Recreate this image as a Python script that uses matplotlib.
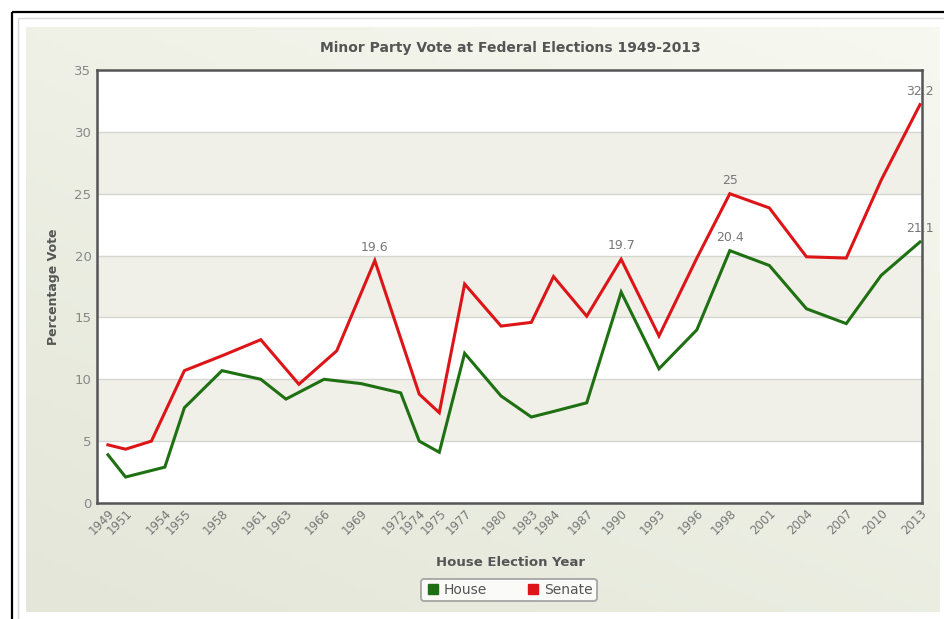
import datetime as dt
import numpy as np
import matplotlib
matplotlib.use("Agg")
import matplotlib.pyplot as plt
from matplotlib.patches import Rectangle
from matplotlib.colors import LinearSegmentedColormap
from matplotlib.lines import Line2D

# ---------------- data ----------------
house_dates = ["1949-12-10", "1951-04-28", "1954-05-29", "1955-12-10", "1958-11-22",
               "1961-12-09", "1963-11-30", "1966-11-26", "1969-10-25", "1972-12-02",
               "1974-05-18", "1975-12-13", "1977-12-10", "1980-10-18", "1983-03-05",
               "1984-12-01", "1987-07-11", "1990-03-24", "1993-03-13", "1996-03-02",
               "1998-10-03", "2001-11-10", "2004-10-09", "2007-11-24", "2010-08-21",
               "2013-09-07"]
house_labels = ["1949", "1951", "1954", "1955", "1958", "1961", "1963", "1966", "1969",
                "1972", "1974", "1975", "1977", "1980", "1983", "1984", "1987", "1990",
                "1993", "1996", "1998", "2001", "2004", "2007", "2010", "2013"]
house_vote = [3.9, 2.1, 2.9, 7.7, 10.7, 10.0, 8.4, 10.0, 9.65, 8.9, 5.0, 4.1, 12.1,
              8.65, 6.95, 7.4, 8.1, 17.05, 10.85, 14.0, 20.4, 19.2, 15.7, 14.5, 18.4, 21.1]

senate_dates = ["1949-12-10", "1951-04-28", "1953-05-09", "1955-12-10", "1958-11-22",
                "1961-12-09", "1964-12-05", "1967-11-25", "1970-11-21", "1974-05-18",
                "1975-12-13", "1977-12-10", "1980-10-18", "1983-03-05", "1984-12-01",
                "1987-07-11", "1990-03-24", "1993-03-13", "1996-03-02", "1998-10-03",
                "2001-11-10", "2004-10-09", "2007-11-24", "2010-08-21", "2013-09-07"]
senate_vote = [4.7, 4.35, 5.0, 10.7, 11.9, 13.2, 9.6, 12.3, 19.6, 8.8, 7.3, 17.7, 14.3,
               14.6, 18.3, 15.1, 19.7, 13.5, 19.8, 25.0, 23.85, 19.9, 19.8, 26.1, 32.2]

# points that carry a value label (indices into each series)
house_labelled = [20, 25]
senate_labelled = [8, 16, 19, 24]

y_ticks = [0, 5, 10, 15, 20, 25, 30, 35]


def to_decimal(s):
    d = dt.date.fromisoformat(s)
    start = dt.date(d.year, 1, 1)
    return d.year + (d - start).days / 365.25


hx = np.array([to_decimal(s) for s in house_dates])
sx = np.array([to_decimal(s) for s in senate_dates])

# ---------------- figure ----------------
W, H = 944, 619
fig = plt.figure(figsize=(W / 100, H / 100), dpi=100, facecolor="white")

# outer frame + chart background
bg = fig.add_axes([0, 0, 1, 1], zorder=-10)
bg.set_xlim(0, W)
bg.set_ylim(H, 0)
bg.axis("off")
bg.add_patch(Rectangle((12, 12), W, H, fill=False, edgecolor="black", lw=1.6))
bg.add_patch(Rectangle((18, 18), W, H, fill=False, edgecolor="#d8d8d8", lw=1.0))
cmap = LinearSegmentedColormap.from_list("bg", ["#f7f8f0", "#e3e6d8"])
yy, xx = np.mgrid[0:1:100j, 0:1:100j]
grad = 0.6 * yy + 0.4 * (1 - xx)
bg.imshow(grad, cmap=cmap, extent=(26, 940, 612, 27), aspect="auto", zorder=0)

# plot area
ax = fig.add_axes([97 / W, 1 - 503 / H, (922 - 97) / W, (503 - 70) / H])
ax.set_ylim(0, 35)
ax.set_xlim(1949.08, 2013.84)
ax.set_facecolor("white")
for lo in range(5, 35, 10):
    ax.axhspan(lo, lo + 5, color="#f0f0e9", zorder=0, lw=0)
for t in y_ticks[1:-1]:
    ax.axhline(t, color="#d6d6d0", lw=1.0, zorder=1)

green = "#1f7012"
red = "#dd1518"
ax.plot(hx, house_vote, color=green, lw=2.2, zorder=3, solid_joinstyle="miter")
ax.plot(sx, senate_vote, color=red, lw=2.2, zorder=3, solid_joinstyle="miter")

lab_col = "#777777"
for i in house_labelled:
    ax.annotate(f"{house_vote[i]:g}", (hx[i], house_vote[i]), xytext=(0, 5),
                textcoords="offset points", ha="center", va="bottom",
                fontsize=9, color=lab_col, zorder=5, annotation_clip=False)
for i in senate_labelled:
    ax.annotate(f"{senate_vote[i]:g}", (sx[i], senate_vote[i]), xytext=(0, 5),
                textcoords="offset points", ha="center", va="bottom",
                fontsize=9, color=lab_col, zorder=5, annotation_clip=False)

for s in ax.spines.values():
    s.set_color("#555555")
    s.set_linewidth(1.8)

ax.set_yticks(y_ticks)
ax.set_yticklabels([str(t) for t in y_ticks], fontsize=9.5, color="#888888")
ax.set_xticks(hx)
ax.set_xticklabels(house_labels, fontsize=8.5, color="#777777", rotation=45,
                   ha="right", va="top", rotation_mode="anchor")
ax.tick_params(axis="both", length=0, pad=4)
ax.tick_params(axis="x", pad=3)

fig.text(510 / W, 1 - 48 / H, "Minor Party Vote at Federal Elections 1949-2013",
         ha="center", va="center", fontsize=10, fontweight="bold", color="#555555")
fig.text(53 / W, 1 - 287 / H, "Percentage Vote", rotation=90, ha="center", va="center",
         fontsize=9, fontweight="bold", color="#555555")
fig.text(510 / W, 1 - 562 / H, "House Election Year", ha="center", va="center",
         fontsize=9.5, fontweight="bold", color="#555555")

handles = [Line2D([], [], marker="s", ls="none", color=green, markersize=7.5),
           Line2D([], [], marker="s", ls="none", color=red, markersize=7.5)]
leg = fig.legend(handles, ["House", "Senate"], loc="center",
                 bbox_to_anchor=(509 / W, 1 - 590 / H), ncol=2, frameon=True,
                 fontsize=10, handletextpad=0.3, columnspacing=2.8,
                 borderpad=0.3, handlelength=1.0, fancybox=True, shadow=False,
                 labelcolor="#555555")
leg.get_frame().set_edgecolor("#999999")
leg.get_frame().set_linewidth(1.4)
leg.get_frame().set_facecolor("white")

fig.savefig("out.png", dpi=100, facecolor="white")
